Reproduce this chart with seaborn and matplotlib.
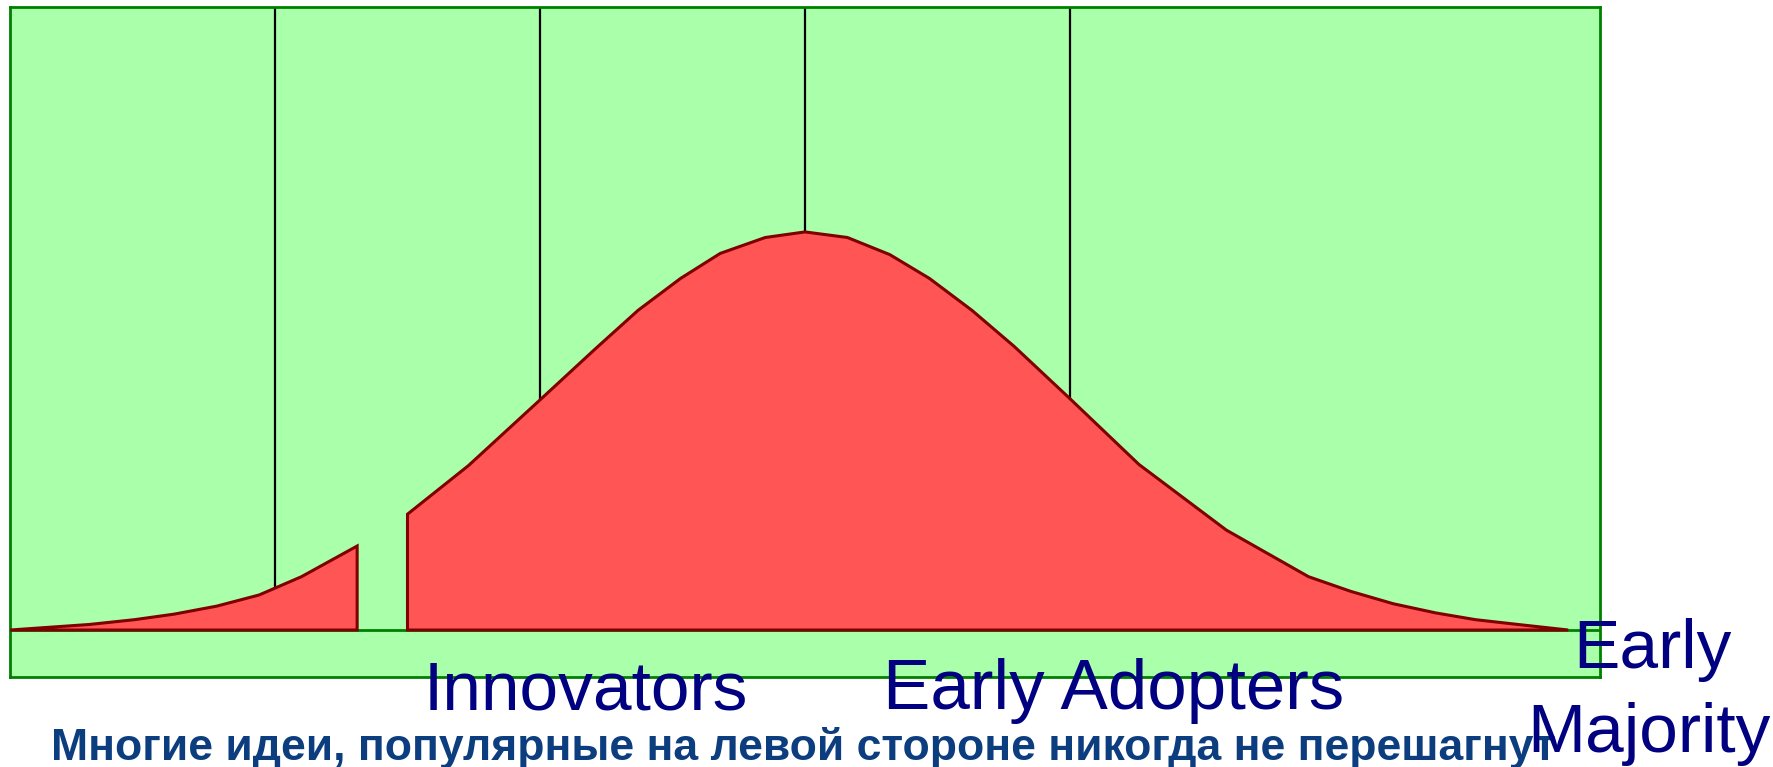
import numpy as np
import pandas as pd
import seaborn as sns
import matplotlib.pyplot as plt

sns.set_theme(style="white")
plt.rcParams['font.family'] = ['Liberation Sans', 'DejaVu Sans']

# curve: x in std units, height in % of peak
left_x = [-3.00, -2.70, -2.53, -2.38, -2.22, -2.06, -1.90, -1.69]
left_y = [0.0, 1.4, 2.6, 4.0, 6.0, 8.8, 13.4, 21.1]
right_x = [-1.50, -1.27, -1.00, -0.79, -0.63, -0.47, -0.32, -0.15, 0.00,
           0.16, 0.32, 0.47, 0.63, 0.79, 1.00, 1.26, 1.59, 1.90, 2.06,
           2.22, 2.38, 2.53, 2.69, 2.88]
right_y = [29.1, 41.3, 57.8, 70.7, 80.3, 88.3, 94.6, 98.6, 100.0,
           98.6, 94.3, 88.3, 80.3, 71.2, 58.1, 41.6, 25.1, 13.4, 9.7,
           6.6, 4.3, 2.6, 1.4, 0.0]
dividers = [-2, -1, 0, 1]
segment_labels = ['Innovators', 'Early Adopters']
caption = 'Многие идеи, популярные на левой стороне никогда не перешагнут'

W, H = 1774, 767
fig = plt.figure(figsize=(W / 100, H / 100), dpi=100)
fig.patch.set_facecolor('white')
ax = fig.add_axes([10 / W, (H - 677) / H, (1600 - 10) / W, (677 - 7) / H])
ax.set_facecolor('#aaffaa')
for s in ax.spines.values():
    s.set_color('#008000')
    s.set_linewidth(2)
    s.set_visible(True)
ax.set_xlim(-3.0, 3.0)
ax.set_ylim(-11.8, 156.5)
ax.set_xticks([])
ax.set_yticks([])

# green baseline
sns.lineplot(x=[-3.0, 3.0], y=[0, 0], color='#008000', lw=2, ax=ax)

all_x = left_x + right_x
all_y = left_y + right_y
for d in dividers:
    top = np.interp(d, all_x, all_y)
    sns.lineplot(x=[d, d], y=[top, 156.5], estimator=None, sort=False,
                 color='black', lw=1.6, ax=ax)

for xs, ys in [(left_x, left_y), (right_x, right_y)]:
    px = [xs[0]] + xs + [xs[-1]]
    py = [0] + ys + [0]
    ax.fill(px, py, facecolor='#ff5555', edgecolor='#800000', lw=2.2, zorder=3)

# caption runs under "Majority" in the original too
fig.text(51 / W, 1 - 760 / H, caption, fontsize=32, fontweight='bold',
         color='#0b3d7f', ha='left', va='baseline')
fig.text(586 / W, 1 - 709 / H, segment_labels[0], fontsize=50, color='#000080',
         ha='center', va='baseline')
fig.text(1114 / W, 1 - 709 / H, segment_labels[1], fontsize=51, color='#000080',
         ha='center', va='baseline')
fig.text(1652 / W, 1 - 668 / H, 'Early', fontsize=50, color='#000080',
         ha='center', va='baseline')
fig.text(1649 / W, 1 - 752 / H, 'Majority', fontsize=50, color='#000080',
         ha='center', va='baseline')

fig.savefig('out.png', dpi=100)
